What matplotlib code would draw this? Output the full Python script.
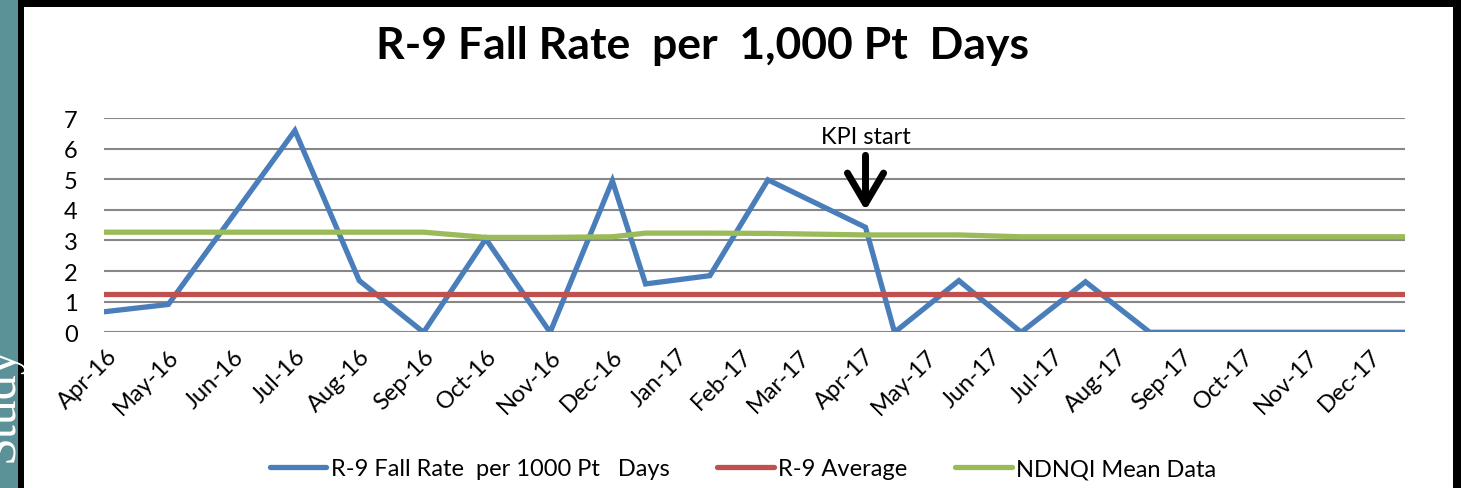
import matplotlib
matplotlib.use("Agg")
import matplotlib.pyplot as plt
from matplotlib.patches import Rectangle
from matplotlib.transforms import ScaledTranslation
import pandas as pd

# ---------------- data ----------------
dates = ["2016-04-01", "2016-05-02", "2016-07-02", "2016-08-02", "2016-09-02",
         "2016-10-02", "2016-11-02", "2016-12-02", "2016-12-18", "2017-01-18",
         "2017-02-15", "2017-04-03", "2017-04-17", "2017-05-18", "2017-06-17",
         "2017-07-18", "2017-08-18", "2017-09-18", "2017-10-18", "2017-11-18",
         "2017-12-19"]
fall_rate = [0.67, 0.91, 6.59, 1.69, 0.0, 3.05, 0.0, 4.95, 1.58, 1.85,
             4.98, 3.43, 0.0, 1.69, 0.0, 1.65, 0.0, 0.0, 0.0, 0.0, 0.0]
ndnqi_mean = [3.27, 3.27, 3.27, 3.27, 3.27, 3.10, 3.10, 3.12, 3.24, 3.24,
              3.23, 3.18, 3.18, 3.18, 3.12, 3.12, 3.12, 3.12, 3.12, 3.12, 3.12]
r9_average = 1.25
month_ticks = pd.date_range("2016-04-01", "2017-12-01", freq="MS")
month_labels = [d.strftime("%b-%y") for d in month_ticks]
kpi_date = "2017-04-03"
title = "R-9 Fall Rate  per  1,000 Pt  Days"
labels = ["R-9 Fall Rate  per 1000 Pt   Days", "R-9 Average", "NDNQI Mean Data"]

x = pd.to_datetime(dates)

plt.rcParams["font.family"] = ["Lato", "DejaVu Sans"]

W, H = 1461, 489
fig = plt.figure(figsize=(W / 100, H / 100), dpi=100)
fig.patch.set_facecolor("white")

# frame decorations (slide background)
def px_rect(x0, y0, x1, y1, color, z=0):
    fig.patches.append(Rectangle((x0 / W, 1 - y1 / H), (x1 - x0) / W, (y1 - y0) / H,
                                 transform=fig.transFigure, color=color, zorder=z,
                                 lw=0))

px_rect(0, 0, 17.5, H, "#5b9298")
px_rect(17.5, 0, 24, H, "black")
px_rect(17.5, 0, W, 8, "black")
px_rect(1453, 0, W, H, "black")
fig.text(13 / W, 1 - 462 / H, "Study", rotation=90, rotation_mode="anchor",
         ha="left", va="baseline", color="white", fontsize=36,
         family=["Liberation Serif", "DejaVu Serif"], zorder=5)

ax = fig.add_axes([104 / W, 1 - 333.3 / H, (1405 - 104) / W, (333.3 - 119) / H])
ax.set_facecolor("none")

ax.plot(x, fall_rate, color="#4a7ebb", lw=3.8, solid_capstyle="round",
        solid_joinstyle="miter", zorder=3, label=labels[0])
ax.plot([x[0], x[-1]], [r9_average, r9_average], color="#c0504d", lw=3.8,
        solid_capstyle="round", zorder=3, label=labels[1])
ax.plot(x, ndnqi_mean, color="#9bbb59", lw=3.8, solid_capstyle="round",
        zorder=3, label=labels[2])

ax.set_xlim(x[0], x[-1])
ax.set_ylim(0, 7)
ax.set_yticks(range(0, 8))
ax.grid(axis="y", color="#878787", lw=1.5)
ax.set_axisbelow(True)
for s in ax.spines.values():
    s.set_visible(False)
ax.tick_params(axis="both", length=0, labelsize=17)
ax.tick_params(axis="y", pad=19)

ax.set_xticks(month_ticks)
ax.set_xticklabels(month_labels, rotation=45, ha="right", rotation_mode="anchor")
off = ScaledTranslation(2 / 100, -8 / 100, fig.dpi_scale_trans)
for lab in ax.get_xticklabels():
    lab.set_transform(lab.get_transform() + off)

kx = pd.to_datetime(kpi_date)
ax.annotate("", xy=(kx, 3.98), xytext=(kx, 5.78),
            arrowprops=dict(arrowstyle="->, head_length=1.1, head_width=0.65",
                            lw=5, color="black", mutation_scale=20,
                            shrinkA=0, shrinkB=0))
ax.text(kx, 6.38, "KPI start", ha="center", va="center", fontsize=17)

fig.text(702 / W, 1 - 46 / H, title, ha="center", va="center", fontsize=32,
         fontweight="bold")

fig.legend(loc="center", bbox_to_anchor=(743 / W, 1 - 470 / H), ncol=3,
           frameon=False, fontsize=17, handlelength=2.4, handletextpad=0.2,
           columnspacing=2.0)

fig.savefig("out.png", dpi=100)
